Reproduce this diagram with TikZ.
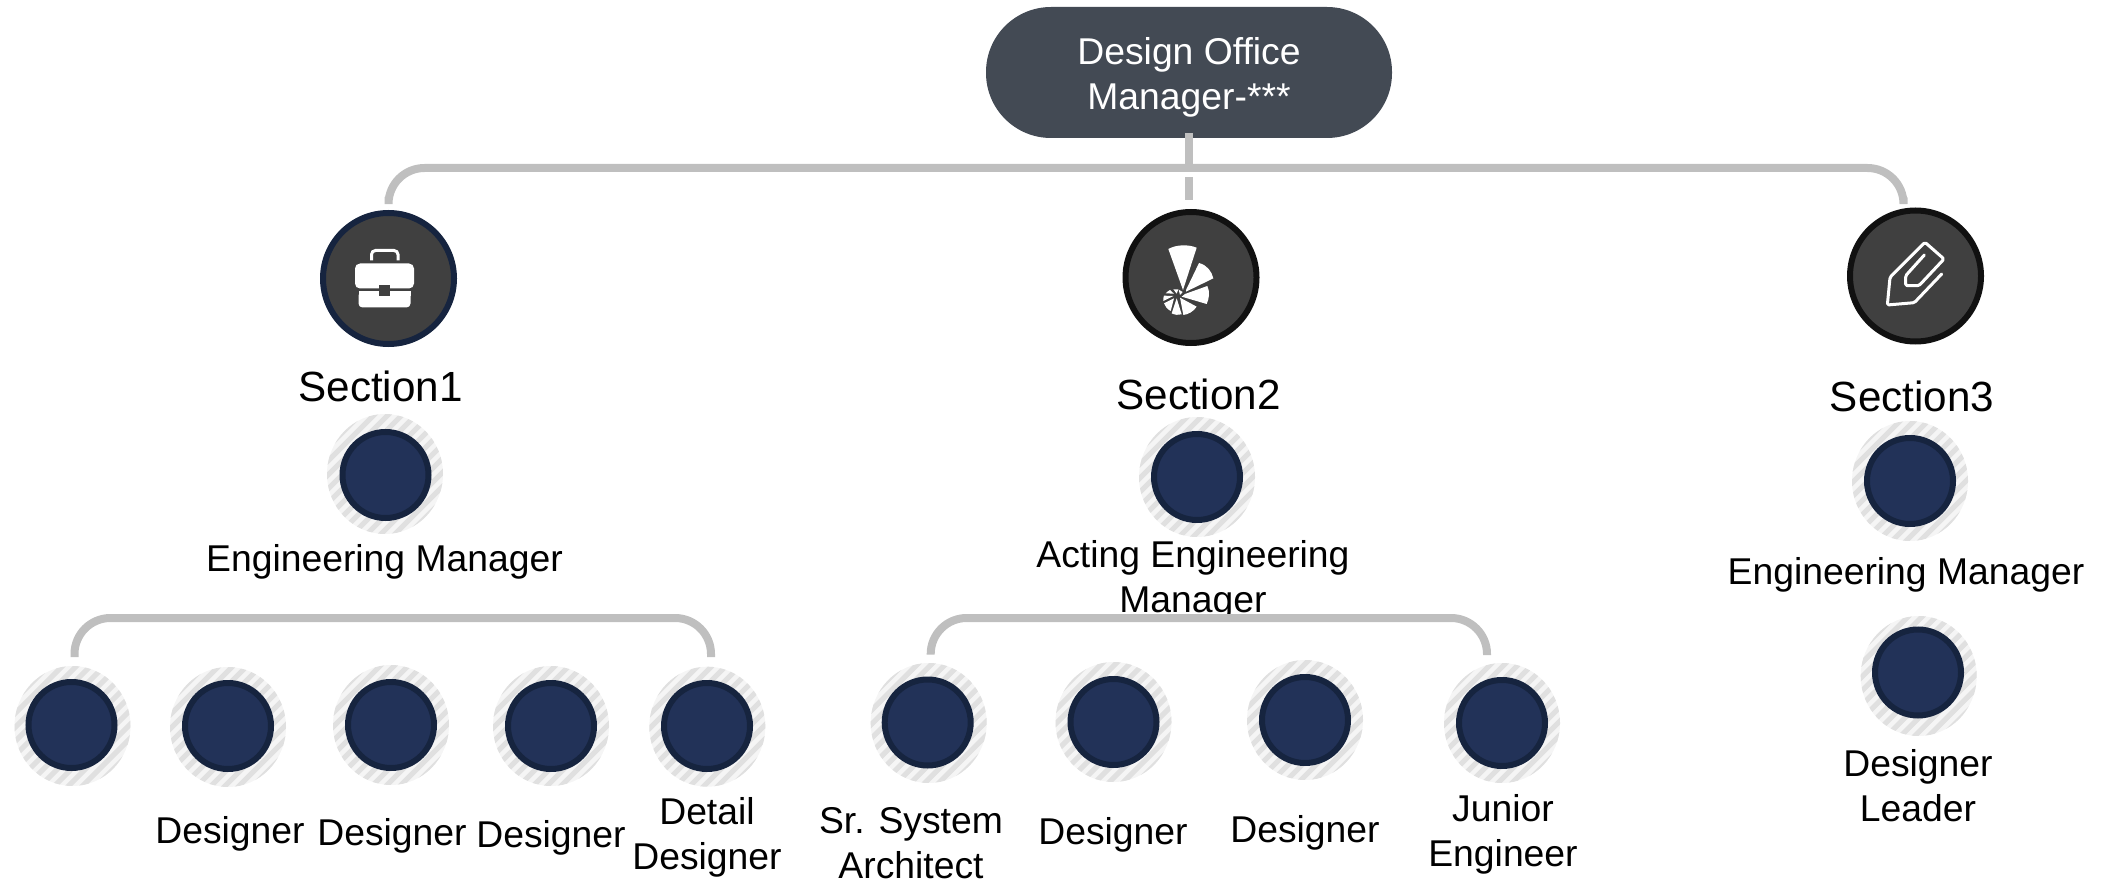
\documentclass[tikz,border=0pt]{standalone}
\usepackage{fontspec}
\setmainfont{Liberation Sans}
\usetikzlibrary{calc}
\definecolor{pillc}{HTML}{434A54}
\definecolor{connc}{HTML}{BFBFBF}
\definecolor{iconc}{HTML}{404040}
\definecolor{ringk}{HTML}{111111}
\definecolor{navyb}{HTML}{16243F}
\definecolor{navyf}{HTML}{223258}
\definecolor{stripea}{HTML}{E0E0E0}
\definecolor{stripeb}{HTML}{F5F5F5}
\tikzset{
  x=1pt,y=-1pt,
  conn/.style={draw=connc,line width=8pt},
  bus/.style={conn,rounded corners=36pt},
  pill/.style={fill=pillc,rounded corners=65pt,minimum width=406pt,minimum height=131pt,text=white,align=center,font=\fontsize{37.3}{45}\selectfont,inner sep=0pt},
  sectioncirc/.style={circle,fill=iconc,draw=#1,line width=6pt,minimum size=131pt,inner sep=0pt},
  person/.style={circle,fill=navyf,draw=navyb,line width=6pt,minimum size=86pt,inner sep=0pt},
  sectext/.style={font=\fontsize{42.2}{48}\selectfont,inner sep=0pt,align=center},
  lab/.style={font=\fontsize{37.3}{45}\selectfont,inner sep=0pt,align=center},
  iconline/.style={draw=white,line width=3pt,line join=round,line cap=round,rounded corners=1.5pt}
}
\newcommand{\hatchring}[2]{%
  \begin{scope}
    \clip (#1,#2) ellipse [x radius=58,y radius=60];
    \fill[stripeb] (#1-60,#2-62) rectangle (#1+60,#2+62);
    \foreach \k in {-10,...,10}{
      \draw[stripea,line width=5pt] (#1-70,#2+\k*14+70) -- (#1+70,#2+\k*14-70);
    }
  \end{scope}}
\begin{document}
\begin{tikzpicture}
\useasboundingbox (0,0) rectangle (2101,882);
% rings
\foreach \a/\b in {385/474,72.5/726,228/727,391/725,551/726,707.3/726.7,928.7/723,1113.5/722,1305/720,1502/723,1197/477,1910/481,1918.7/676}{\hatchring{\a}{\b}}
% root
\node[pill] (root) at (1189,72.5) {\raisebox{-11pt}[0pt][0pt]{\parbox{400pt}{\centering Design Office\\Manager-***}}};
% sections
\node[sectioncirc=navyb] (s1) at (388.5,278.5) {};
\node[sectioncirc=ringk] (s2) at (1191,277.5) {};
\node[sectioncirc=ringk] (s3) at (1915.5,276) {};
\node[sectext] (t1) at (380.5,386) {Section1};
\node[sectext] (t2) at (1198.5,394) {Section2};
\node[sectext] (t3) at (1912,396) {Section3};
% people
\node[person] (m1) at (385.5,475) {};
\node[person] (m2) at (1197,477) {};
\node[person] (m3) at (1910,481) {};
\node[person] (l3) at (1918,672.5) {};
\node[person] (a1) at (71.5,725) {};
\node[person] (a2) at (228,726) {};
\node[person] (a3) at (391,725) {};
\node[person] (a4) at (551,726) {};
\node[person] (a5) at (707,726) {};
\node[person] (b1) at (927.7,722.5) {};
\node[person] (b2) at (1113.5,722) {};
\node[person] (b3) at (1305,720) {};
\node[person] (b4) at (1502,723) {};
% labels
\node[lab] (lm1) at (384.5,562) {Engineering Manager};
\node[lab] (lm2) at (1193,580) {Acting Engineering\\Manager};
\node[lab] (lm3) at (1906,575) {Engineering Manager};
\node[lab] (ll3) at (1918,785.5) {Designer\\Leader};
\node[lab] (la2) at (230,834) {Designer};
\node[lab] (la3) at (392,836) {Designer};
\node[lab] (la4) at (551,838) {Designer};
\node[lab] (la5) at (707,837) {Detail\\Designer};
\node[lab] (lb1) at (911,843) {Sr. System\\Architect};
\node[lab] (lb2) at (1113,835) {Designer};
\node[lab] (lb3) at (1305,832.5) {Designer};
\node[lab] (lb4) at (1503,834) {Junior\\Engineer};
% connectors
\coordinate (busy) at (1189,168);
\draw[bus] ([yshift=13]s1.north) |- (busy) -| ([xshift=-12,yshift=10]s3.north);
\draw[conn] ([yshift=5]root.south) -- ++(0,31);
\draw[conn] ([xshift=-2,yshift=9]s2.north) -- ++(0,-23);
\coordinate (bus1) at (300,618);
\coordinate (bus2) at (1200,618);
\draw[bus] ([xshift=3,yshift=22]a1.north) |- (bus1) -| ([xshift=4,yshift=23]a5.north);
\draw[bus] ([xshift=3,yshift=22]b1.north) |- (bus2) -| ([xshift=-15,yshift=22]b4.north);
% briefcase
\begin{scope}[shift={(s1.center)}]
  \draw[white,line width=3pt,rounded corners=4pt] (-17,-18) -- (-17,-28) -- (9.5,-28) -- (9.5,-18);
  \fill[white,rounded corners=5pt] (-33.5,-15) rectangle (25.5,10);
  \fill[white,rounded corners=4pt] (-30,13) rectangle (22,29);
  \fill[white] (-30,13) rectangle (22,18);
  \fill[iconc] (-10,7) rectangle (1.5,18);
\end{scope}
% paper clip
\begin{scope}[shift={(s3.center)},x=0.3333pt,y=-0.3333pt,shift={(-121.5,-123)}]
  \draw[iconline] (200,117) -- (118,203) -- (37,210) -- (45,127) -- (150,22) -- (207,72) -- (132,152) -- (92,152) -- (92,122) -- (148,60);
\end{scope}
% pie icon
\begin{scope}[shift={(s2.center)},x=0.3333pt,y=-0.3333pt,shift={(-123,-127.5)}]
  \fill[white] (99,165) -- (55,42) .. controls (80,28) and (115,28) .. (140,38) -- cycle;
  \fill[white] (108,165) -- (147,84) .. controls (170,90) and (185,108) .. (190,130) -- (108,170) -- cycle;
  \fill[white] (105,177) -- (172,153) .. controls (180,170) and (178,190) .. (170,207) -- (95,185) -- cycle;
  \fill[white] (90,188) -- (140,215) .. controls (130,230) and (115,238) .. (100,240) -- cycle;
  \fill[white] (80,190) -- (95,238) .. controls (85,241) and (75,240) .. (65,235) -- cycle;
  \fill[white] (72,190) -- (62,228) .. controls (52,222) and (45,215) .. (42,205) -- cycle;
  \fill[white] (70,183) -- (40,198) .. controls (39,192) and (40,187) .. (42,182) -- cycle;
  \fill[white] (72,176) -- (47,175) .. controls (52,170) and (56,167) .. (60,165) -- cycle;
  \fill[white] (80,176) -- (70,163) -- (85,163) -- cycle;
  \fill[white] (90,180) -- (86,164) -- (98,171) -- cycle;
\end{scope}
\end{tikzpicture}
\end{document}
